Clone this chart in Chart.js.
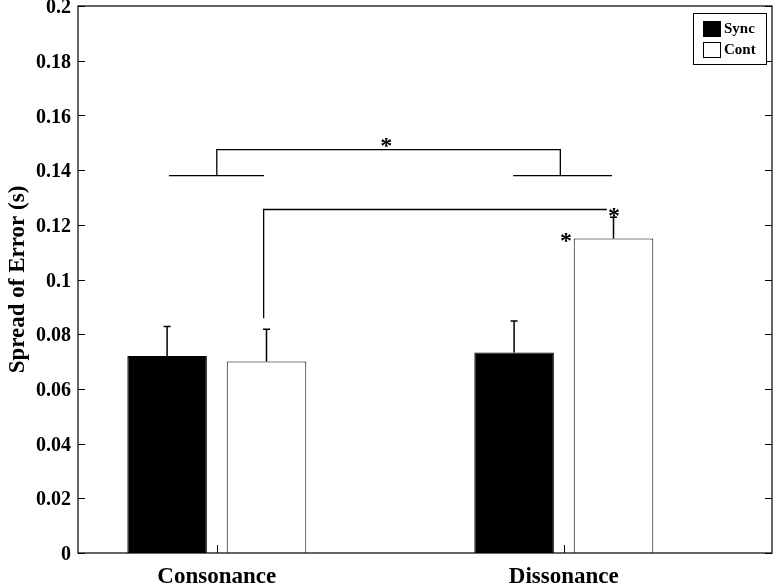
<!DOCTYPE html>
<html lang="en">
<head>
    <meta charset="UTF-8">
    <title>Spread of Error</title>
    <style>
        body { margin: 0; padding: 0; background-color: #fff; }
        #wrap { width: 774px; height: 585px; }
    </style>
    <script src="https://cdn.jsdelivr.net/npm/chart.js"></script>
</head>
<body>
<div id="wrap"><canvas id="myChart" width="774" height="585"></canvas></div>

<script>
    // Data
    const categories = ['Consonance', 'Dissonance'];
    const seriesNames = ['Sync', 'Cont'];
    const syncMeans = [0.072, 0.0733];
    const syncErrTop = [0.0828, 0.0848];
    const contMeans = [0.070, 0.115];
    const contErrTop = [0.0818, 0.1228];
    const yTicks = [0, 0.02, 0.04, 0.06, 0.08, 0.1, 0.12, 0.14, 0.16, 0.18, 0.2];

    // Significance brackets, in data units (x: category position, y: value)
    const bracketTop = { xLeft: 1.0, xRight: 1.99, yTop: 0.1475, yLow: 0.138,
                         leftSpan: [0.862, 1.136], rightSpan: [1.854, 2.139] };
    const bracketCont = { x1: 1.135, yBottom: 0.0858, y: 0.1256, x2: 2.124 };
    const stars = [
        { x: 1.488, y: 0.1505 },
        { x: 2.145, y: 0.1252 },
        { x: 2.006, y: 0.1160 }
    ];

    const serif = '"Liberation Serif", "Times New Roman", serif';

    // Box, inward ticks, error bars, brackets and legend (MATLAB look)
    const figurePlugin = {
        id: 'figure',
        afterDatasetsDraw(chart) {
            const ctx = chart.ctx;
            const x = chart.scales.x, y = chart.scales.y;
            const a = chart.chartArea;
            ctx.save();
            ctx.strokeStyle = '#000';
            ctx.fillStyle = '#000';

            // error bars
            const errs = [syncErrTop, contErrTop];
            ctx.lineWidth = 1.5;
            chart.data.datasets.forEach((ds, d) => {
                chart.getDatasetMeta(d).data.forEach((bar, i) => {
                    const top = y.getPixelForValue(errs[d][i]);
                    ctx.beginPath();
                    ctx.moveTo(bar.x, bar.y);
                    ctx.lineTo(bar.x, top);
                    ctx.moveTo(bar.x - 3.5, top);
                    ctx.lineTo(bar.x + 3.5, top);
                    ctx.stroke();
                });
            });

            // box
            ctx.lineWidth = 1.2;
            ctx.strokeRect(a.left, a.top, a.right - a.left, a.bottom - a.top);

            // inward ticks
            ctx.lineWidth = 1;
            ctx.beginPath();
            yTicks.forEach(v => {
                const py = Math.round(y.getPixelForValue(v)) + 0.5;
                ctx.moveTo(a.left, py); ctx.lineTo(a.left + 7, py);
                ctx.moveTo(a.right, py); ctx.lineTo(a.right - 7, py);
            });
            categories.forEach((c, i) => {
                const px = Math.round(x.getPixelForValue(i + 1)) + 0.5;
                ctx.moveTo(px, a.bottom); ctx.lineTo(px, a.bottom - 8);
            });
            ctx.stroke();

            // brackets
            const X = v => x.getPixelForValue(v), Y = v => y.getPixelForValue(v);
            ctx.lineWidth = 1.3;
            ctx.beginPath();
            ctx.moveTo(X(bracketTop.leftSpan[0]), Y(bracketTop.yLow));
            ctx.lineTo(X(bracketTop.leftSpan[1]), Y(bracketTop.yLow));
            ctx.moveTo(X(bracketTop.rightSpan[0]), Y(bracketTop.yLow));
            ctx.lineTo(X(bracketTop.rightSpan[1]), Y(bracketTop.yLow));
            ctx.moveTo(X(bracketTop.xLeft), Y(bracketTop.yLow));
            ctx.lineTo(X(bracketTop.xLeft), Y(bracketTop.yTop));
            ctx.lineTo(X(bracketTop.xRight), Y(bracketTop.yTop));
            ctx.lineTo(X(bracketTop.xRight), Y(bracketTop.yLow));
            ctx.moveTo(X(bracketCont.x1), Y(bracketCont.yBottom));
            ctx.lineTo(X(bracketCont.x1), Y(bracketCont.y));
            ctx.lineTo(X(bracketCont.x2), Y(bracketCont.y));
            ctx.stroke();

            // stars
            ctx.font = 'bold 24px ' + serif;
            ctx.textAlign = 'center';
            ctx.textBaseline = 'alphabetic';
            stars.forEach(s => ctx.fillText('*', X(s.x), Y(s.y) + 12));

            // legend
            const lx = 693, ly = 13, lw = 73, lh = 51;
            ctx.fillStyle = '#fff';
            ctx.fillRect(lx, ly, lw, lh);
            ctx.lineWidth = 1;
            ctx.strokeRect(lx + 0.5, ly + 0.5, lw, lh);
            ctx.font = 'bold 15px ' + serif;
            ctx.textAlign = 'left';
            ctx.textBaseline = 'middle';
            chart.data.datasets.forEach((ds, d) => {
                const sy = ly + 8 + d * 21;
                ctx.fillStyle = ds.backgroundColor;
                ctx.fillRect(lx + 10, sy, 17, 16);
                ctx.strokeStyle = '#000';
                ctx.strokeRect(lx + 10.5, sy + 0.5, 17, 15);
                ctx.fillStyle = '#000';
                ctx.fillText(ds.label, lx + 31, sy + 8);
            });
            ctx.restore();
        }
    };

    const ctx = document.getElementById('myChart').getContext('2d');
    const myChart = new Chart(ctx, {
        type: 'bar',
        data: {
            datasets: [{
                label: seriesNames[0],
                data: categories.map((c, i) => ({ x: i + 1, y: syncMeans[i] })),
                backgroundColor: '#000',
                borderColor: '#000',
                borderWidth: 1,
                categoryPercentage: 0.573,
                barPercentage: 0.8
            }, {
                label: seriesNames[1],
                data: categories.map((c, i) => ({ x: i + 1, y: contMeans[i] })),
                backgroundColor: '#fff',
                borderColor: '#000',
                borderWidth: 1,
                categoryPercentage: 0.573,
                barPercentage: 0.8
            }]
        },
        options: {
            responsive: false,
            animation: false,
            devicePixelRatio: 1,
            layout: { padding: { top: 6, right: 2, left: 0, bottom: 0 } },
            plugins: { legend: { display: false }, tooltip: { enabled: false } },
            scales: {
                x: {
                    type: 'linear',
                    min: 0.6,
                    max: 2.6,
                    offset: false,
                    grid: { display: false, drawTicks: false, offset: false },
                    border: { display: false },
                    afterBuildTicks: scale => { scale.ticks = categories.map((c, i) => ({ value: i + 1 })); },
                    afterFit: scale => { scale.height = 32; scale.paddingLeft = 0; scale.paddingRight = 0; },
                    ticks: {
                        padding: 10,
                        color: '#000',
                        font: { family: serif, size: 23, weight: 'bold' },
                        callback: v => categories[v - 1]
                    }
                },
                y: {
                    min: 0,
                    max: 0.2,
                    grid: { display: false, drawTicks: false },
                    border: { display: false },
                    afterBuildTicks: scale => { scale.ticks = yTicks.map(v => ({ value: v })); },
                    afterFit: scale => { scale.width = 78; scale.paddingTop = 0; scale.paddingBottom = 0; },
                    ticks: {
                        padding: 7,
                        labelOffset: 2,
                        color: '#000',
                        font: { family: serif, size: 20, weight: 'bold' },
                        callback: v => String(Number(v.toFixed(2)))
                    },
                    title: {
                        display: true,
                        text: 'Spread of Error (s)',
                        color: '#000',
                        padding: { top: 4, bottom: 0 },
                        font: { family: serif, size: 23, weight: 'bold' }
                    }
                }
            }
        },
        plugins: [figurePlugin]
    });
</script>
</body>
</html>
